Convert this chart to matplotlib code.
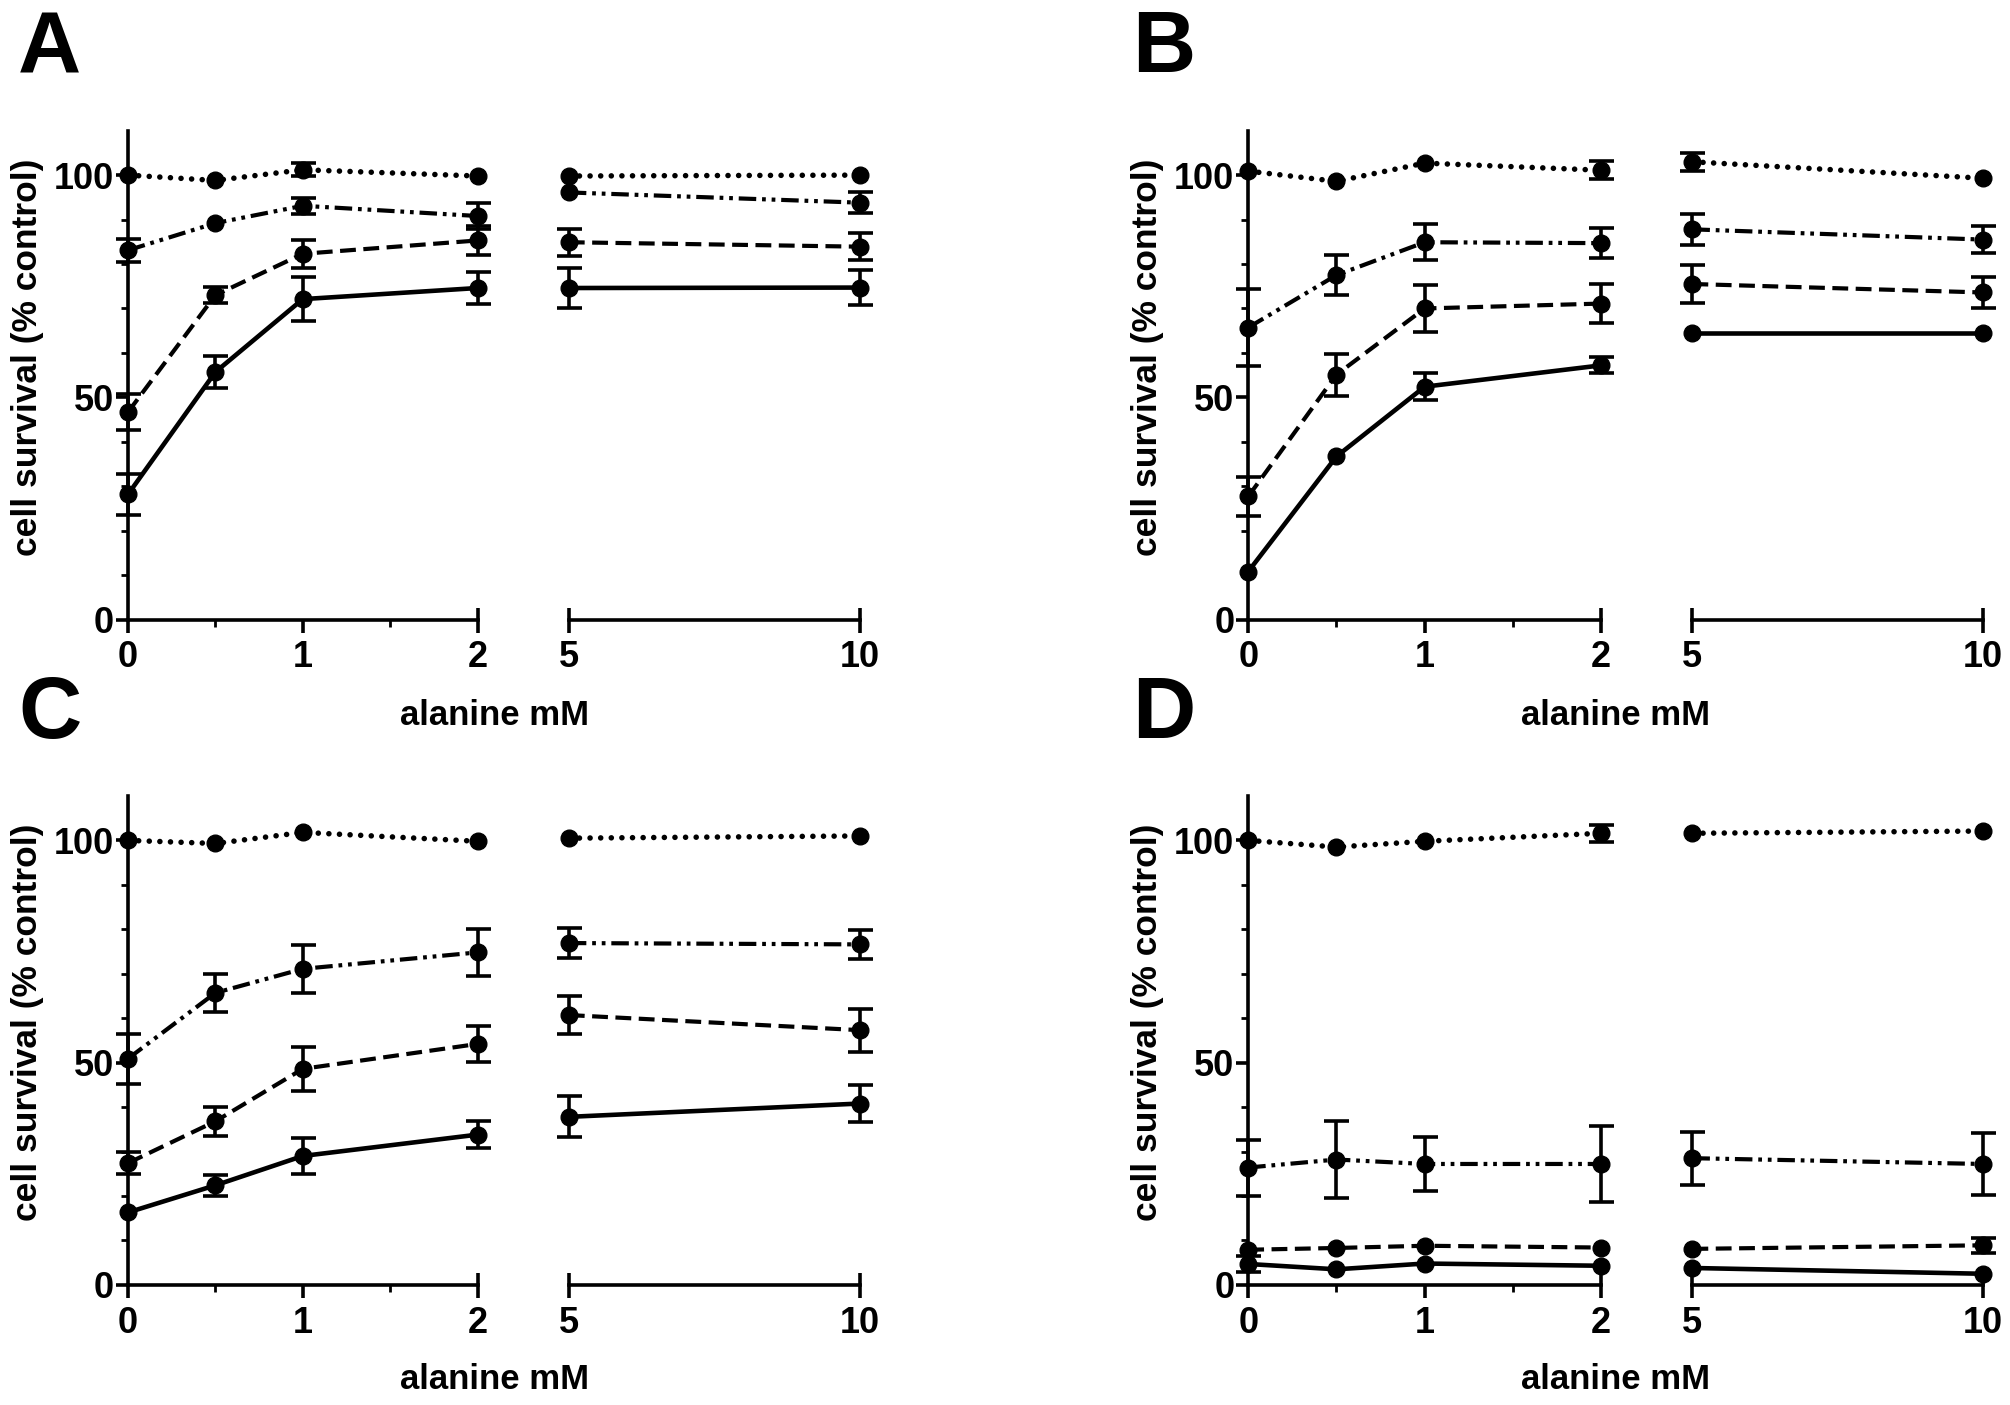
import numpy as np
import matplotlib
matplotlib.use("Agg")
import matplotlib.pyplot as plt
from matplotlib.ticker import FixedLocator

plt.rcParams['font.family'] = ['Liberation Sans', 'DejaVu Sans']
plt.rcParams['font.weight'] = 'bold'

# ---------------- data ----------------
alanine_mM = [0, 0.5, 1, 2, 5, 10]
low_major_ticks = [0, 1, 2]
low_minor_ticks = [0.5, 1.5]
high_major_ticks = [5, 10]
y_major_ticks = [0, 50, 100]
y_minor_ticks = [10, 20, 30, 40, 60, 70, 80, 90]
panel_letters = ['A', 'B', 'C', 'D']
x_label = 'alanine mM'
y_label = 'cell survival (% control)'

# Panel A
A_dotted = [100.0, 98.8, 101.2, 99.8, 99.8, 100.0]
A_dotted_err = [0, 0, 1.5, 0, 0, 0]
A_dashdotdot = [83.1, 89.2, 93.1, 90.8, 96.1, 93.8]
A_dashdotdot_err = [2.6, 0, 1.8, 3.0, 0, 2.3]
A_dashed = [46.7, 73.0, 82.3, 85.3, 84.9, 83.9]
A_dashed_err = [4.1, 1.8, 3.2, 3.3, 3.0, 3.1]
A_solid = [28.2, 55.7, 72.1, 74.6, 74.6, 74.7]
A_solid_err = [4.6, 3.6, 4.9, 3.5, 4.5, 4.0]

# Panel B
B_dotted = [100.9, 98.6, 102.7, 101.1, 103.0, 99.3]
B_dotted_err = [0, 0, 0, 2.0, 2.0, 0]
B_dashdotdot = [65.7, 77.5, 84.9, 84.7, 87.8, 85.5]
B_dashdotdot_err = [8.7, 4.5, 4.0, 3.4, 3.5, 3.0]
B_dashed = [27.7, 55.1, 70.0, 71.1, 75.5, 73.6]
B_dashed_err = [4.4, 4.7, 5.2, 4.4, 4.2, 3.4]
B_solid = [10.8, 36.7, 52.4, 57.2, 64.4, 64.4]
B_solid_err = [0, 0, 3.0, 1.8, 0, 0]

# Panel C
C_dotted = [100.0, 99.3, 101.8, 99.8, 100.5, 101.0]
C_dotted_err = [0, 0, 0, 0, 0, 0]
C_dashdotdot = [50.9, 65.7, 71.1, 74.8, 76.9, 76.6]
C_dashdotdot_err = [5.6, 4.2, 5.4, 5.2, 3.4, 3.2]
C_dashed = [27.4, 36.8, 48.6, 54.2, 60.7, 57.3]
C_dashed_err = [2.4, 3.2, 5.0, 4.1, 4.3, 4.8]
C_solid = [16.3, 22.4, 29.0, 33.8, 37.8, 40.8]
C_solid_err = [0, 2.4, 4.0, 3.0, 4.6, 4.2]

# Panel D
D_dotted = [100.0, 98.5, 99.8, 101.6, 101.6, 102.1]
D_dotted_err = [0, 0, 0, 1.9, 0, 0]
D_dashdotdot = [26.4, 28.2, 27.2, 27.2, 28.5, 27.2]
D_dashdotdot_err = [6.3, 8.7, 6.0, 8.5, 6.0, 7.0]
D_dashed = [7.9, 8.3, 8.8, 8.4, 8.1, 8.9]
D_dashed_err = [0, 0, 0, 0, 0, 1.7]
D_solid = [4.7, 3.5, 4.8, 4.3, 3.8, 2.5]
D_solid_err = [1.7, 0, 0, 0, 0, 0]

# ---------------- styles ----------------
LW = 3.0
line_styles = {
    'dotted': dict(linestyle=(0, (0.01, 1.9)), dash_capstyle='round', lw=4.0),
    'dashdotdot': dict(linestyle=(0, (4.2, 1.4, 0.9, 1.4, 0.9, 1.4)), lw=LW),
    'dashed': dict(linestyle=(0, (3.8, 1.8)), lw=LW),
    'solid': dict(linestyle='-', lw=LW + 0.3),
}

panel_data = {
    'A': [('dotted', A_dotted, A_dotted_err), ('dashdotdot', A_dashdotdot, A_dashdotdot_err),
          ('dashed', A_dashed, A_dashed_err), ('solid', A_solid, A_solid_err)],
    'B': [('dotted', B_dotted, B_dotted_err), ('dashdotdot', B_dashdotdot, B_dashdotdot_err),
          ('dashed', B_dashed, B_dashed_err), ('solid', B_solid, B_solid_err)],
    'C': [('dotted', C_dotted, C_dotted_err), ('dashdotdot', C_dashdotdot, C_dashdotdot_err),
          ('dashed', C_dashed, C_dashed_err), ('solid', C_solid, C_solid_err)],
    'D': [('dotted', D_dotted, D_dotted_err), ('dashdotdot', D_dashdotdot, D_dashdotdot_err),
          ('dashed', D_dashed, D_dashed_err), ('solid', D_solid, D_solid_err)],
}

# layout (figure fractions)
col_x = {0: (0.0637, 0.2376, 0.283, 0.428), 1: (0.621, 0.7966, 0.842, 0.9864)}
row_y = {0: 0.559, 1: 0.0855}
AX_H = 0.348
letter_x = {0: 0.009, 1: 0.563}
letter_y = {0: 0.9645, 1: 0.491}
ylabel_x = {0: 0.0137, 1: 0.571}
xlabel_y = {0: 0.4905, 1: 0.0185}

TICK_FS = 26
AX_LW = 2.6
fig = plt.figure(figsize=(20.1, 14.05), dpi=100)


def style_axis(ax):
    for s in ['top', 'right']:
        ax.spines[s].set_visible(False)
    ax.spines['bottom'].set_linewidth(AX_LW)
    ax.spines['left'].set_linewidth(AX_LW)
    ax.set_ylim(0, 110)
    ax.tick_params(axis='both', which='major', length=9, width=AX_LW,
                   labelsize=TICK_FS, direction='out')
    ax.tick_params(axis='both', which='minor', length=5, width=2, direction='out')
    ax.tick_params(axis='x', which='major', pad=6)
    ax.tick_params(axis='y', which='major', pad=1)


def draw_series(ax, xs, ys, errs, style):
    st = line_styles[style]
    ax.plot(xs, ys, color='black', clip_on=False, zorder=3, **st)
    e = np.array(errs, dtype=float)
    e = np.where(e > 0, e, np.nan)
    ax.errorbar(xs, ys, yerr=e, fmt='o', color='black', ms=12, capsize=9,
                elinewidth=AX_LW, capthick=AX_LW, clip_on=False, zorder=4)


for i, letter in enumerate(panel_letters):
    row, col = divmod(i, 2)
    x0, x2, x5, x10 = col_x[col]
    y0 = row_y[row]
    axl = fig.add_axes([x0, y0, x2 - x0, AX_H])
    axr = fig.add_axes([x5, y0, x10 - x5, AX_H])
    for ax in (axl, axr):
        style_axis(ax)
    axl.set_xlim(alanine_mM[0], alanine_mM[3])
    axr.set_xlim(alanine_mM[4], alanine_mM[5])
    axl.xaxis.set_major_locator(FixedLocator(low_major_ticks))
    axl.xaxis.set_minor_locator(FixedLocator(low_minor_ticks))
    axl.set_xticklabels([str(t) for t in low_major_ticks], fontweight='bold')
    axr.xaxis.set_major_locator(FixedLocator(high_major_ticks))
    axr.set_xticklabels([str(t) for t in high_major_ticks], fontweight='bold')
    axr.tick_params(axis='x', which='major', direction='inout', length=18, pad=6)
    axl.yaxis.set_major_locator(FixedLocator(y_major_ticks))
    axl.yaxis.set_minor_locator(FixedLocator(y_minor_ticks))
    axl.set_yticklabels([str(t) for t in y_major_ticks], fontweight='bold')
    axr.spines['left'].set_visible(False)
    axr.tick_params(axis='y', which='both', left=False, labelleft=False)
    # end cap at the right end of the low-concentration segment crosses the axis
    end_tick = axl.xaxis.get_major_ticks()[-1]
    end_tick.tick1line.set_marker('|')
    end_tick.tick1line.set_markersize(18)

    for style, ys, errs in panel_data[letter]:
        draw_series(axl, alanine_mM[:4], ys[:4], errs[:4], style)
        draw_series(axr, alanine_mM[4:], ys[4:], errs[4:], style)

    fig.text(letter_x[col], letter_y[row], letter, fontsize=63,
             fontweight='bold', ha='left', va='center')
    fig.text(ylabel_x[col], y0 + AX_H * 59 / 110, y_label, fontsize=25.5,
             fontweight='bold', rotation=90, ha='center', va='center')
    fig.text((x0 + x10) / 2, xlabel_y[row], x_label,
             fontsize=25, fontweight='bold', ha='center', va='center')

fig.savefig('out.png', dpi=100)
